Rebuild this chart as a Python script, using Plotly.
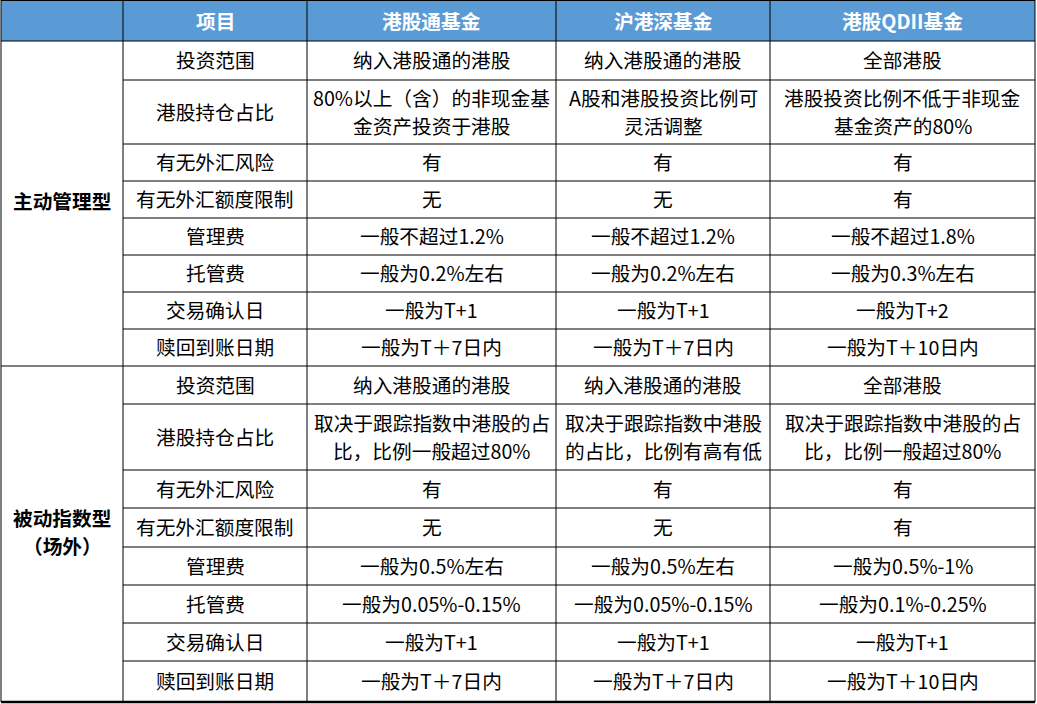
"""港股基金对比表
   * 主动管理型 / 被动指数型（场外）两组，三类基金逐项对比
   * 用 plotly 的 shapes + annotations 画表格（go.Table 不支持合并单元格）
"""
import plotly.graph_objects as go

# 表头
headers = ["项目", "港股通基金", "沪港深基金", "港股QDII基金"]
# 第一列的两个合并单元格
groups = ["主动管理型", "被动指数型\n（场外）"]
# 对比项目（两组相同）
items = ["投资范围", "港股持仓占比", "有无外汇风险", "有无外汇额度限制",
         "管理费", "托管费", "交易确认日", "赎回到账日期"]

# 主动管理型
active_ggt = ["纳入港股通的港股", "80%以上（含）的非现金基\n金资产投资于港股", "有", "无",
              "一般不超过1.2%", "一般为0.2%左右", "一般为T+1", "一般为T＋7日内"]
active_hgs = ["纳入港股通的港股", "A股和港股投资比例可\n灵活调整", "有", "无",
              "一般不超过1.2%", "一般为0.2%左右", "一般为T+1", "一般为T＋7日内"]
active_qdii = ["全部港股", "港股投资比例不低于非现金\n基金资产的80%", "有", "有",
               "一般不超过1.8%", "一般为0.3%左右", "一般为T+2", "一般为T＋10日内"]

# 被动指数型（场外）
passive_ggt = ["纳入港股通的港股", "取决于跟踪指数中港股的占\n比，比例一般超过80%", "有", "无",
               "一般为0.5%左右", "一般为0.05%-0.15%", "一般为T+1", "一般为T＋7日内"]
passive_hgs = ["纳入港股通的港股", "取决于跟踪指数中港股\n的占比，比例有高有低", "有", "无",
               "一般为0.5%左右", "一般为0.05%-0.15%", "一般为T+1", "一般为T＋7日内"]
passive_qdii = ["全部港股", "取决于跟踪指数中港股的占\n比，比例一般超过80%", "有", "有",
                "一般为0.5%-1%", "一般为0.1%-0.25%", "一般为T+1", "一般为T＋10日内"]

# layout (pixels)
W, H = 1037, 704
col_edges = [1, 123, 307, 556, 770, 1035]
header_h = 41
row_h = [[39, 64, 37, 37, 37, 37, 37, 37],
         [38, 66, 38, 39, 38, 38, 38, 41]]
FONT = "Noto Sans CJK SC, Microsoft YaHei, sans-serif"
FS = 19.7
LINE_GAP = 28
HEAD_BLUE = "#5B9BD5"


def add_text(fig, x, y, text, bold=False, color="#000000"):
    """write a (possibly multi-line) cell text centered at x, y"""
    lines = text.split("\n")
    for i, line in enumerate(lines):
        dy = (i - (len(lines) - 1) / 2) * LINE_GAP
        fig.add_annotation(x=x, y=y + dy, text=f"<b>{line}</b>" if bold else line,
                           showarrow=False, xanchor="center", yanchor="middle",
                           font=dict(family=FONT, size=FS, color=color))


def hline(fig, y, x0, x1, width=1):
    fig.add_shape(type="line", x0=x0, x1=x1, y0=y, y1=y,
                  line=dict(color="#000000", width=width))


def vline(fig, x, y0, y1, width=1):
    fig.add_shape(type="line", x0=x, x1=x, y0=y0, y1=y1,
                  line=dict(color="#000000", width=width))


fig = go.Figure()

# header background
fig.add_shape(type="rect", x0=col_edges[0], x1=col_edges[-1], y0=0, y1=header_h,
              fillcolor=HEAD_BLUE, line_width=0, layer="below")
for j, h in enumerate(headers):
    add_text(fig, (col_edges[j + 1] + col_edges[j + 2]) / 2, header_h / 2, h,
             bold=True, color="#FFFFFF")

columns = [[active_ggt, active_hgs, active_qdii], [passive_ggt, passive_hgs, passive_qdii]]
y = header_h
for g, group in enumerate(groups):
    g_top = y
    for r, item in enumerate(items):
        top, bottom = y, y + row_h[g][r]
        mid = (top + bottom) / 2 - 1
        add_text(fig, (col_edges[1] + col_edges[2]) / 2, mid, item)
        for c, col in enumerate(columns[g]):
            add_text(fig, (col_edges[c + 2] + col_edges[c + 3]) / 2, mid, col[r])
        # row separator (inside the group only)
        if r < len(items) - 1:
            hline(fig, bottom, col_edges[1], col_edges[-1])
        y = bottom
    # merged group cell
    add_text(fig, (col_edges[0] + col_edges[1]) / 2, (g_top + y) / 2 - 3, group, bold=True)
    hline(fig, y, col_edges[0], col_edges[-1], width=2.5 if g == len(groups) - 1 else 1)

# outer + column lines
hline(fig, 0.5, col_edges[0], col_edges[-1])
hline(fig, header_h, col_edges[0], col_edges[-1])
for x in col_edges:
    vline(fig, x, 0, y)

fig.update_xaxes(range=[0, W], visible=False, fixedrange=True)
fig.update_yaxes(range=[H, 0], visible=False, fixedrange=True)
fig.update_layout(width=W, height=H, margin=dict(l=0, r=0, t=0, b=0),
                  plot_bgcolor="#FFFFFF", paper_bgcolor="#FFFFFF", showlegend=False)

# page body has a default 8px margin; drop it so the table sits at (0, 0)
fig.write_html("out.html", config={"displayModeBar": False},
               post_script="document.body.style.margin='0';document.body.style.overflow='hidden';")
